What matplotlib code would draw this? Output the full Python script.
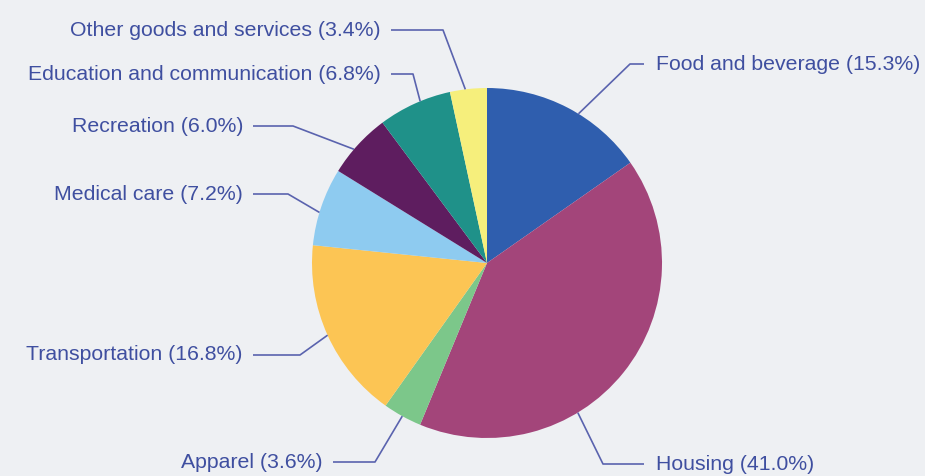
import numpy as np
import matplotlib.pyplot as plt

# data, in drawing order (clockwise from 12 o'clock)
categories = ["Food and beverage", "Housing", "Apparel", "Transportation",
              "Medical care", "Recreation", "Education and communication",
              "Other goods and services"]
shares = [15.3, 41.0, 3.6, 16.8, 7.2, 6.0, 6.8, 3.4]
colors = ["#2F5EAE", "#A3457A", "#7CC78A", "#FCC554",
          "#8ECBF0", "#5E1D5F", "#1F9189", "#F6EF7C"]

W, H = 925, 476
bg = "#EEF0F3"
txt_col = "#3F4FA0"
line_col = "#5A63AE"

fig = plt.figure(figsize=(W / 100, H / 100), dpi=100, facecolor=bg)
ax = fig.add_axes([0, 0, 1, 1])
ax.set_facecolor(bg)

cx, cy, r = 487, H - 263, 175
wedges, _ = ax.pie(shares, colors=colors, startangle=90, counterclock=False,
                   center=(cx, cy), radius=r, frame=True,
                   wedgeprops=dict(linewidth=0))

# label layout: text anchor (pixel x, y), alignment, elbow x, angle shift on wedge
layout = {
    "Food and beverage": (656, 64, "left", 630, -4),
    "Housing": (656, 464, "left", 603, -20),
    "Apparel": (323, 462, "right", 375, 0),
    "Transportation": (243, 355, "right", 300, 0),
    "Medical care": (243, 194, "right", 288, 2),
    "Recreation": (243, 126, "right", 293, 2),
    "Education and communication": (381, 74, "right", 413, -2),
    "Other goods and services": (381, 30, "right", 443, 1),
}

for w, name, val in zip(wedges, categories, shares):
    tx, ty, ha, ex, shift = layout[name]
    ang = np.deg2rad((w.theta1 + w.theta2) / 2 + shift)
    ax_, ay_ = cx + r * np.cos(ang), cy + r * np.sin(ang)
    ty = H - ty
    sx = tx - 12 if ha == "left" else tx + 10
    ax.plot([sx, ex, ax_], [ty, ty, ay_], color=line_col, lw=1.2,
            solid_capstyle="butt")
    ax.text(tx, ty, f"{name} ({val:.1f}%)", ha=ha, va="center",
            color=txt_col, fontsize=15.3, family="Liberation Sans")

ax.set_xlim(0, W)
ax.set_ylim(0, H)
ax.axis("off")

fig.savefig("out.png", dpi=100, facecolor=bg)
